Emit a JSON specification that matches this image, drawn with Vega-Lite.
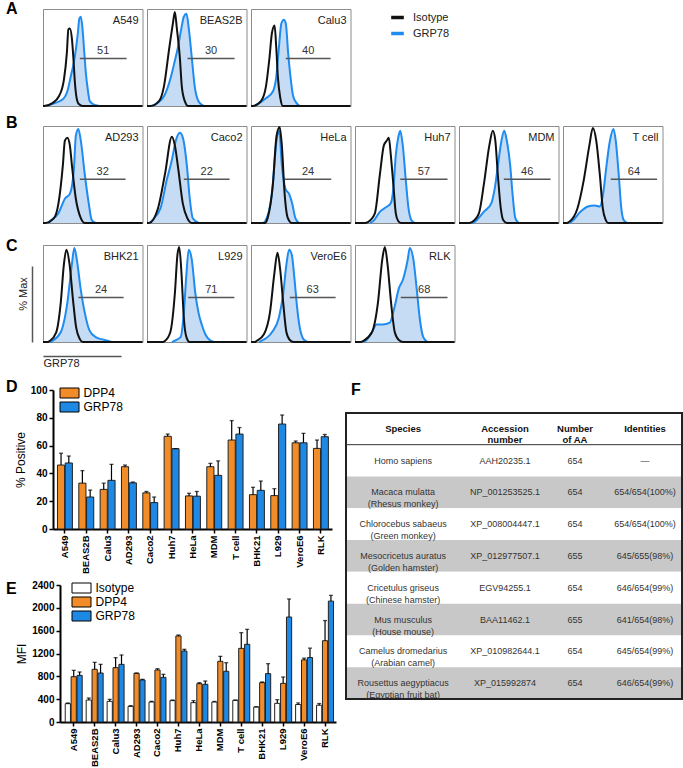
{
"$schema":"https://vega.github.io/schema/vega-lite/v6.json",
"background":"white",
"padding":{"left":5,"top":0,"right":0,"bottom":0},
"config":{"font":"Liberation Sans","view":{"stroke":"#8c8c8c","strokeWidth":1},
"title":{"fontSize":16,"fontWeight":"bold","anchor":"start","frame":"group","color":"#000","offset":0},
"axis":{"grid":false,"labelOverlap":false},"text":{"font":"Liberation Sans"}},
"datasets":{
"hist":[
{"c":"A549","s":"GRP78","x":[4,6,20,25,28,31,35,36.5,38,39.5,41.5,43,45,47,52,57],"y":[0,1,7,17,31,45,75,90,92,82,55,35,17,5,1,0]},
{"c":"A549","s":"Isotype","x":[0,1,9.5,16,21,24,25.5,27,29,30.5,32,33.5,36,40,100],"y":[0,0,3,10,27,55,79,80,70,50,25,10,2,0,0]},
{"c":"A549","s":"gate","x":[37],"y":[49],"x2":84,"n":"51"},
{"c":"BEAS2B","s":"GRP78","x":[5,7,17,24,27.6,31,34.5,37,39.7,42,45,48,51.7,57],"y":[0,1,10,30,45,60,80,92,95,80,50,20,5,0]},
{"c":"BEAS2B","s":"Isotype","x":[0,3.4,12,17,22.4,26,28,30,33,35,38,41.4,100],"y":[0,0,5,20,60,85,97,80,50,20,5,0,0]},
{"c":"BEAS2B","s":"gate","x":[40.7],"y":[49],"x2":88,"n":"30"},
{"c":"Calu3","s":"GRP78","x":[3,5,15,22,25.4,28,30.5,33,35,37.3,39.7,42.4,45.8,49],"y":[0,1,8,15,30,60,85,89,85,55,30,10,3,0]},
{"c":"Calu3","s":"Isotype","x":[0,1.7,10,15,18.6,21,23.7,25.4,27,29.5,32,100],"y":[0,0,5,20,50,75,83,60,30,8,0,0]},
{"c":"Calu3","s":"gate","x":[35],"y":[49],"x2":80,"n":"40"},
{"c":"AD293","s":"GRP78","x":[5,7,15.5,22,27,31,33,35.5,38,42,46,49,53],"y":[0,2,10,25,30,55,90,97,85,50,20,3,0]},
{"c":"AD293","s":"Isotype","x":[0,2,11,15.5,20,22,24.5,27,29,33,38,42,100],"y":[0,0,5,20,60,85,88,80,60,25,5,0,0]},
{"c":"AD293","s":"gate","x":[37],"y":[45],"x2":83,"n":"32"},
{"c":"Caco2","s":"GRP78","x":[3,4.5,13.5,20,25,29,33,36,40,43,46,52],"y":[0,2,15,45,65,85,93,88,60,25,5,0]},
{"c":"Caco2","s":"Isotype","x":[0,2,11,18,25,28,31.5,36,40.5,45,100],"y":[0,0,15,50,89,80,55,20,5,0,0]},
{"c":"Caco2","s":"gate","x":[37],"y":[45],"x2":83,"n":"22"},
{"c":"HeLa","s":"GRP78","x":[12,14.4,21,25.7,28.4,31,34.7,38.3,41.4,44.6,48.2],"y":[0,2,30,85,95,60,35,30,20,5,0]},
{"c":"HeLa","s":"Isotype","x":[0,14,16.7,22,25.7,28.8,31,33.8,37,41,100],"y":[0,0,5,40,90,99,80,30,5,0,0]},
{"c":"HeLa","s":"gate","x":[34],"y":[45],"x2":80.6,"n":"24"},
{"c":"Huh7","s":"GRP78","x":[15,18.4,25.3,32.3,35.8,38.5,41,43.4,45.5,48,51.4,53.8,56.6,60],"y":[0,2,12,17,20,35,70,88,95,80,40,15,3,0]},
{"c":"Huh7","s":"Isotype","x":[0,10,13,20,25,29,32,34,36,38.5,41,43.4,46,100],"y":[0,0,1,10,50,80,85,88,70,40,10,2,0,0]},
{"c":"Huh7","s":"gate","x":[45.5],"y":[45],"x2":93,"n":"57"},
{"c":"MDM","s":"GRP78","x":[13,16.7,25.3,32.3,35.8,39.2,42.7,45.5,48,51.4,53.8,56.6,60],"y":[0,2,12,20,35,60,85,95,85,60,30,5,0]},
{"c":"MDM","s":"Isotype","x":[0,10,13,20,25,30.5,34,36.5,39,42,44.4,48,100],"y":[0,0,1,10,40,80,95,85,50,15,3,0,0]},
{"c":"MDM","s":"gate","x":[45],"y":[45],"x2":92,"n":"46"},
{"c":"T cell","s":"GRP78","x":[7,9.3,18,25,31.7,37,40.3,43.8,47.2,50.7,53,56,58.6,61,64.5],"y":[0,2,12,17,18,17,30,60,85,97,85,50,15,3,0]},
{"c":"T cell","s":"Isotype","x":[0,4,6,14.5,21,26.5,30,33.4,37,40,43,45.5,100],"y":[0,0,1,15,45,80,98,85,50,15,3,0,0]},
{"c":"T cell","s":"gate","x":[48],"y":[45],"x2":94.5,"n":"64"},
{"c":"BHK21","s":"GRP78","x":[7,9,17.8,24.4,29,31.5,34,37.8,42,46.7,53,62,69],"y":[0,1,10,40,80,97,85,55,30,12,5,2,0]},
{"c":"BHK21","s":"Isotype","x":[0,5,6.7,13.3,17.8,21,23.5,26.7,30,33.3,37,40,100],"y":[0,0,1,10,40,80,95,80,45,15,3,0,0]},
{"c":"BHK21","s":"gate","x":[35.6],"y":[46],"x2":81,"n":"24"},
{"c":"L929","s":"GRP78","x":[25,27,33.8,37,39.6,41.9,45,48.6,51.8,55,58.6,63,67.6],"y":[0,1,5,30,70,95,85,50,30,18,8,2,0]},
{"c":"L929","s":"Isotype","x":[0,16,18,23.4,28,30.6,32.4,34.7,37,39.6,42.8,100],"y":[0,0,1,10,50,90,98,70,25,5,0,0]},
{"c":"L929","s":"gate","x":[41.4],"y":[46],"x2":87.8,"n":"71"},
{"c":"VeroE6","s":"GRP78","x":[8,10,21,28,32.4,35.6,38.3,41,43.7,46.4,49,52.7,57],"y":[0,1,10,25,50,80,95,90,65,35,15,3,0]},
{"c":"VeroE6","s":"Isotype","x":[0,4,5.4,13,19,23.4,26.6,29.3,32.4,35.6,39,42.8,100],"y":[0,0,1,8,30,70,92,75,40,10,2,0,0]},
{"c":"VeroE6","s":"gate","x":[39],"y":[46],"x2":85,"n":"63"},
{"c":"RLK","s":"GRP78","x":[8,10.3,17,21.5,28,35,39.5,44,48.4,53,55,58.7,62,65,68.6,73],"y":[0,1,10,18,18,20,35,55,65,85,97,85,55,25,5,0]},
{"c":"RLK","s":"Isotype","x":[0,6,8,17,23,27.4,30,32.7,36.3,40,44,48.4,100],"y":[0,0,1,10,40,85,98,80,40,10,2,0,0]},
{"c":"RLK","s":"gate","x":[46],"y":[46],"x2":93,"n":"68"}
],
"pos":[
{"c":"A549","s":"DPP4","v":46,"hi":54.5},{"c":"A549","s":"GRP78","v":47.5,"hi":52.5},
{"c":"BEAS2B","s":"DPP4","v":33,"hi":42},{"c":"BEAS2B","s":"GRP78","v":23,"hi":28},
{"c":"Calu3","s":"DPP4","v":28.5,"hi":33},{"c":"Calu3","s":"GRP78","v":35,"hi":46.5},
{"c":"AD293","s":"DPP4","v":44.8,"hi":46},{"c":"AD293","s":"GRP78","v":33.2,"hi":33.8},
{"c":"Caco2","s":"DPP4","v":26,"hi":27},{"c":"Caco2","s":"GRP78","v":19,"hi":23},
{"c":"Huh7","s":"DPP4","v":66.7,"hi":68.3},{"c":"Huh7","s":"GRP78","v":57.8,"hi":57.8},
{"c":"HeLa","s":"DPP4","v":23.8,"hi":25.7},{"c":"HeLa","s":"GRP78","v":23.6,"hi":27},
{"c":"MDM","s":"DPP4","v":44.8,"hi":47.2},{"c":"MDM","s":"GRP78","v":38.6,"hi":49},
{"c":"T cell","s":"DPP4","v":64,"hi":78},{"c":"T cell","s":"GRP78","v":68.3,"hi":73},
{"c":"BHK21","s":"DPP4","v":24.7,"hi":30},{"c":"BHK21","s":"GRP78","v":27.8,"hi":34.5},
{"c":"L929","s":"DPP4","v":24,"hi":29},{"c":"L929","s":"GRP78","v":75.5,"hi":82},
{"c":"VeroE6","s":"DPP4","v":62,"hi":63.3},{"c":"VeroE6","s":"GRP78","v":62,"hi":68.8},
{"c":"RLK","s":"DPP4","v":58,"hi":64},{"c":"RLK","s":"GRP78","v":66.4,"hi":68}
],
"mfi":[
{"c":"A549","s":"Isotype","v":321,"hi":333},{"c":"A549","s":"DPP4","v":794,"hi":905},{"c":"A549","s":"GRP78","v":817,"hi":876},
{"c":"BEAS2B","s":"Isotype","v":385,"hi":420},{"c":"BEAS2B","s":"DPP4","v":923,"hi":1045},{"c":"BEAS2B","s":"GRP78","v":858,"hi":1010},
{"c":"Calu3","s":"Isotype","v":362,"hi":397},{"c":"Calu3","s":"DPP4","v":952,"hi":1127},{"c":"Calu3","s":"GRP78","v":1010,"hi":1174},
{"c":"AD293","s":"Isotype","v":274,"hi":286},{"c":"AD293","s":"DPP4","v":853,"hi":858},{"c":"AD293","s":"GRP78","v":736,"hi":747},
{"c":"Caco2","s":"Isotype","v":350,"hi":362},{"c":"Caco2","s":"DPP4","v":911,"hi":934},{"c":"Caco2","s":"GRP78","v":782,"hi":835},
{"c":"Huh7","s":"Isotype","v":374,"hi":385},{"c":"Huh7","s":"DPP4","v":1507,"hi":1524},{"c":"Huh7","s":"GRP78","v":1244,"hi":1273},
{"c":"HeLa","s":"Isotype","v":339,"hi":374},{"c":"HeLa","s":"DPP4","v":671,"hi":689},{"c":"HeLa","s":"GRP78","v":660,"hi":718},
{"c":"MDM","s":"Isotype","v":350,"hi":360},{"c":"MDM","s":"DPP4","v":1063,"hi":1150},{"c":"MDM","s":"GRP78","v":888,"hi":1039},
{"c":"T cell","s":"Isotype","v":380,"hi":385},{"c":"T cell","s":"DPP4","v":1290,"hi":1565},{"c":"T cell","s":"GRP78","v":1361,"hi":1623},
{"c":"BHK21","s":"Isotype","v":263,"hi":268},{"c":"BHK21","s":"DPP4","v":689,"hi":701},{"c":"BHK21","s":"GRP78","v":847,"hi":1022},
{"c":"L929","s":"Isotype","v":327,"hi":391},{"c":"L929","s":"DPP4","v":677,"hi":788},{"c":"L929","s":"GRP78","v":1839,"hi":2155},
{"c":"VeroE6","s":"Isotype","v":306,"hi":335},{"c":"VeroE6","s":"DPP4","v":1088,"hi":1118},{"c":"VeroE6","s":"GRP78","v":1129,"hi":1294},
{"c":"RLK","s":"Isotype","v":294,"hi":323},{"c":"RLK","s":"DPP4","v":1424,"hi":1777},{"c":"RLK","s":"GRP78","v":2118,"hi":2218}
],
"tbl":[
{"species":"Species","acc":"Accession\nnumber","naa":"Number\nof AA","ident":"Identities"},
{"species":"Homo sapiens","acc":"AAH20235.1","naa":"654","ident":"—"},
{"species":"Macaca mulatta\n(Rhesus monkey)","acc":"NP_001253525.1","naa":"654","ident":"654/654(100%)"},
{"species":"Chlorocebus sabaeus\n(Green monkey)","acc":"XP_008004447.1","naa":"654","ident":"654/654(100%)"},
{"species":"Mesocricetus auratus\n(Golden hamster)","acc":"XP_012977507.1","naa":"655","ident":"645/655(98%)"},
{"species":"Cricetulus griseus\n(Chinese hamster)","acc":"EGV94255.1","naa":"654","ident":"646/654(99%)"},
{"species":"Mus musculus\n(House mouse)","acc":"BAA11462.1","naa":"655","ident":"641/654(98%)"},
{"species":"Camelus dromedarius\n(Arabian camel)","acc":"XP_010982644.1","naa":"654","ident":"645/654(99%)"},
{"species":"Rousettus aegyptiacus\n(Egyptian fruit bat)","acc":"XP_015992874","naa":"654","ident":"646/654(99%)"}
]
},
"columns":1,"align":"none","bounds":"full","spacing":10,
"resolve":{"scale":{"stroke":"independent","fill":"independent","xOffset":"independent"},"legend":{"stroke":"independent","fill":"independent"}},
"concat":[
{"columns":1,"align":"none","bounds":"full","spacing":9,
"resolve":{"scale":{"stroke":"independent"},"legend":{"stroke":"independent"}},
"concat":[
{"columns":1,"align":"none","bounds":"full","spacing":3,
"resolve":{"scale":{"stroke":"independent"},"legend":{"stroke":"independent"}},
"concat":[
{"data":{"name":"hist"},"bounds":"flush","spacing":4,
"resolve":{"scale":{"stroke":"independent"},"legend":{"stroke":"independent"}},
"hconcat":[
{"transform":[{"filter":"datum.c=='A549'"},{"flatten":["x","y"]}],"width":99.5,"height":97,"title":{"text":"A","dx":-37,"dy":12},"layer":[
{"transform":[{"filter":"datum.s=='GRP78'"}],"mark":{"type":"area","interpolate":"monotone","fill":"#c5dcf4"},"encoding":{"x":{"field":"x","type":"quantitative","scale":{"domain":[0,100],"nice":false},"axis":null},"y":{"field":"y","type":"quantitative","scale":{"domain":[0,100],"nice":false},"axis":null}}},
{"transform":[{"filter":"datum.s!='gate'"}],"mark":{"type":"line","interpolate":"monotone","strokeWidth":2},"encoding":{"x":{"field":"x","type":"quantitative","axis":null},"y":{"field":"y","type":"quantitative","axis":null},"stroke":{"field":"s","type":"nominal","scale":{"domain":["Isotype","GRP78"],"range":["#111111","#1e8cf0"]},"legend":null}}},
{"transform":[{"filter":"datum.s=='gate'"}],"mark":{"type":"rule","stroke":"#555555","strokeWidth":1.5},"encoding":{"x":{"field":"x","type":"quantitative","axis":null},"x2":{"field":"x2"},"y":{"field":"y","type":"quantitative","axis":null}}},
{"transform":[{"filter":"datum.s=='gate'"},{"calculate":"(datum.x+datum.x2)/2","as":"xm"}],"mark":{"type":"text","baseline":"bottom","dy":-2,"fontSize":11,"color":"#333333"},"encoding":{"x":{"field":"xm","type":"quantitative","axis":null},"y":{"field":"y","type":"quantitative","axis":null},"text":{"field":"n"}}},
{"transform":[{"filter":"datum.s=='gate'"}],"mark":{"type":"text","align":"right","baseline":"top","fontSize":11,"color":"#222222"},"encoding":{"x":{"datum":96,"type":"quantitative","axis":null},"y":{"datum":94,"type":"quantitative","axis":null},"text":{"field":"c"}}}
]},
{"transform":[{"filter":"datum.c=='BEAS2B'"},{"flatten":["x","y"]}],"width":99.5,"height":97,"layer":[
{"transform":[{"filter":"datum.s=='GRP78'"}],"mark":{"type":"area","interpolate":"monotone","fill":"#c5dcf4"},"encoding":{"x":{"field":"x","type":"quantitative","scale":{"domain":[0,100],"nice":false},"axis":null},"y":{"field":"y","type":"quantitative","scale":{"domain":[0,100],"nice":false},"axis":null}}},
{"transform":[{"filter":"datum.s!='gate'"}],"mark":{"type":"line","interpolate":"monotone","strokeWidth":2},"encoding":{"x":{"field":"x","type":"quantitative","axis":null},"y":{"field":"y","type":"quantitative","axis":null},"stroke":{"field":"s","type":"nominal","scale":{"domain":["Isotype","GRP78"],"range":["#111111","#1e8cf0"]},"legend":null}}},
{"transform":[{"filter":"datum.s=='gate'"}],"mark":{"type":"rule","stroke":"#555555","strokeWidth":1.5},"encoding":{"x":{"field":"x","type":"quantitative","axis":null},"x2":{"field":"x2"},"y":{"field":"y","type":"quantitative","axis":null}}},
{"transform":[{"filter":"datum.s=='gate'"},{"calculate":"(datum.x+datum.x2)/2","as":"xm"}],"mark":{"type":"text","baseline":"bottom","dy":-2,"fontSize":11,"color":"#333333"},"encoding":{"x":{"field":"xm","type":"quantitative","axis":null},"y":{"field":"y","type":"quantitative","axis":null},"text":{"field":"n"}}},
{"transform":[{"filter":"datum.s=='gate'"}],"mark":{"type":"text","align":"right","baseline":"top","fontSize":11,"color":"#222222"},"encoding":{"x":{"datum":96,"type":"quantitative","axis":null},"y":{"datum":94,"type":"quantitative","axis":null},"text":{"field":"c"}}}
]},
{"transform":[{"filter":"datum.c=='Calu3'"},{"flatten":["x","y"]}],"width":99.5,"height":97,"layer":[
{"transform":[{"filter":"datum.s=='GRP78'"}],"mark":{"type":"area","interpolate":"monotone","fill":"#c5dcf4"},"encoding":{"x":{"field":"x","type":"quantitative","scale":{"domain":[0,100],"nice":false},"axis":null},"y":{"field":"y","type":"quantitative","scale":{"domain":[0,100],"nice":false},"axis":null}}},
{"transform":[{"filter":"datum.s!='gate'"}],"mark":{"type":"line","interpolate":"monotone","strokeWidth":2},"encoding":{"x":{"field":"x","type":"quantitative","axis":null},"y":{"field":"y","type":"quantitative","axis":null},"stroke":{"field":"s","type":"nominal","scale":{"domain":["Isotype","GRP78"],"range":["#111111","#1e8cf0"]},"legend":{"title":null,"orient":"right","offset":34,"symbolType":"stroke","symbolStrokeWidth":3.5,"symbolSize":160,"labelFontSize":11,"labelOffset":7,"rowPadding":0,"labelColor":"#222222"}}}},
{"transform":[{"filter":"datum.s=='gate'"}],"mark":{"type":"rule","stroke":"#555555","strokeWidth":1.5},"encoding":{"x":{"field":"x","type":"quantitative","axis":null},"x2":{"field":"x2"},"y":{"field":"y","type":"quantitative","axis":null}}},
{"transform":[{"filter":"datum.s=='gate'"},{"calculate":"(datum.x+datum.x2)/2","as":"xm"}],"mark":{"type":"text","baseline":"bottom","dy":-2,"fontSize":11,"color":"#333333"},"encoding":{"x":{"field":"xm","type":"quantitative","axis":null},"y":{"field":"y","type":"quantitative","axis":null},"text":{"field":"n"}}},
{"transform":[{"filter":"datum.s=='gate'"}],"mark":{"type":"text","align":"right","baseline":"top","fontSize":11,"color":"#222222"},"encoding":{"x":{"datum":96,"type":"quantitative","axis":null},"y":{"datum":94,"type":"quantitative","axis":null},"text":{"field":"c"}}}
]}
]},
{"data":{"name":"hist"},"bounds":"flush","spacing":4,
"resolve":{"scale":{"stroke":"independent"},"legend":{"stroke":"independent"}},
"hconcat":[
{"transform":[{"filter":"datum.c=='AD293'"},{"flatten":["x","y"]}],"width":99.5,"height":97,"title":{"text":"B","dx":-37,"dy":10},"layer":[
{"transform":[{"filter":"datum.s=='GRP78'"}],"mark":{"type":"area","interpolate":"monotone","fill":"#c5dcf4"},"encoding":{"x":{"field":"x","type":"quantitative","scale":{"domain":[0,100],"nice":false},"axis":null},"y":{"field":"y","type":"quantitative","scale":{"domain":[0,100],"nice":false},"axis":null}}},
{"transform":[{"filter":"datum.s!='gate'"}],"mark":{"type":"line","interpolate":"monotone","strokeWidth":2},"encoding":{"x":{"field":"x","type":"quantitative","axis":null},"y":{"field":"y","type":"quantitative","axis":null},"stroke":{"field":"s","type":"nominal","scale":{"domain":["Isotype","GRP78"],"range":["#111111","#1e8cf0"]},"legend":null}}},
{"transform":[{"filter":"datum.s=='gate'"}],"mark":{"type":"rule","stroke":"#555555","strokeWidth":1.5},"encoding":{"x":{"field":"x","type":"quantitative","axis":null},"x2":{"field":"x2"},"y":{"field":"y","type":"quantitative","axis":null}}},
{"transform":[{"filter":"datum.s=='gate'"},{"calculate":"(datum.x+datum.x2)/2","as":"xm"}],"mark":{"type":"text","baseline":"bottom","dy":-2,"fontSize":11,"color":"#333333"},"encoding":{"x":{"field":"xm","type":"quantitative","axis":null},"y":{"field":"y","type":"quantitative","axis":null},"text":{"field":"n"}}},
{"transform":[{"filter":"datum.s=='gate'"}],"mark":{"type":"text","align":"right","baseline":"top","fontSize":11,"color":"#222222"},"encoding":{"x":{"datum":96,"type":"quantitative","axis":null},"y":{"datum":94,"type":"quantitative","axis":null},"text":{"field":"c"}}}
]},
{"transform":[{"filter":"datum.c=='Caco2'"},{"flatten":["x","y"]}],"width":99.5,"height":97,"layer":[
{"transform":[{"filter":"datum.s=='GRP78'"}],"mark":{"type":"area","interpolate":"monotone","fill":"#c5dcf4"},"encoding":{"x":{"field":"x","type":"quantitative","scale":{"domain":[0,100],"nice":false},"axis":null},"y":{"field":"y","type":"quantitative","scale":{"domain":[0,100],"nice":false},"axis":null}}},
{"transform":[{"filter":"datum.s!='gate'"}],"mark":{"type":"line","interpolate":"monotone","strokeWidth":2},"encoding":{"x":{"field":"x","type":"quantitative","axis":null},"y":{"field":"y","type":"quantitative","axis":null},"stroke":{"field":"s","type":"nominal","scale":{"domain":["Isotype","GRP78"],"range":["#111111","#1e8cf0"]},"legend":null}}},
{"transform":[{"filter":"datum.s=='gate'"}],"mark":{"type":"rule","stroke":"#555555","strokeWidth":1.5},"encoding":{"x":{"field":"x","type":"quantitative","axis":null},"x2":{"field":"x2"},"y":{"field":"y","type":"quantitative","axis":null}}},
{"transform":[{"filter":"datum.s=='gate'"},{"calculate":"(datum.x+datum.x2)/2","as":"xm"}],"mark":{"type":"text","baseline":"bottom","dy":-2,"fontSize":11,"color":"#333333"},"encoding":{"x":{"field":"xm","type":"quantitative","axis":null},"y":{"field":"y","type":"quantitative","axis":null},"text":{"field":"n"}}},
{"transform":[{"filter":"datum.s=='gate'"}],"mark":{"type":"text","align":"right","baseline":"top","fontSize":11,"color":"#222222"},"encoding":{"x":{"datum":96,"type":"quantitative","axis":null},"y":{"datum":94,"type":"quantitative","axis":null},"text":{"field":"c"}}}
]},
{"transform":[{"filter":"datum.c=='HeLa'"},{"flatten":["x","y"]}],"width":99.5,"height":97,"layer":[
{"transform":[{"filter":"datum.s=='GRP78'"}],"mark":{"type":"area","interpolate":"monotone","fill":"#c5dcf4"},"encoding":{"x":{"field":"x","type":"quantitative","scale":{"domain":[0,100],"nice":false},"axis":null},"y":{"field":"y","type":"quantitative","scale":{"domain":[0,100],"nice":false},"axis":null}}},
{"transform":[{"filter":"datum.s!='gate'"}],"mark":{"type":"line","interpolate":"monotone","strokeWidth":2},"encoding":{"x":{"field":"x","type":"quantitative","axis":null},"y":{"field":"y","type":"quantitative","axis":null},"stroke":{"field":"s","type":"nominal","scale":{"domain":["Isotype","GRP78"],"range":["#111111","#1e8cf0"]},"legend":null}}},
{"transform":[{"filter":"datum.s=='gate'"}],"mark":{"type":"rule","stroke":"#555555","strokeWidth":1.5},"encoding":{"x":{"field":"x","type":"quantitative","axis":null},"x2":{"field":"x2"},"y":{"field":"y","type":"quantitative","axis":null}}},
{"transform":[{"filter":"datum.s=='gate'"},{"calculate":"(datum.x+datum.x2)/2","as":"xm"}],"mark":{"type":"text","baseline":"bottom","dy":-2,"fontSize":11,"color":"#333333"},"encoding":{"x":{"field":"xm","type":"quantitative","axis":null},"y":{"field":"y","type":"quantitative","axis":null},"text":{"field":"n"}}},
{"transform":[{"filter":"datum.s=='gate'"}],"mark":{"type":"text","align":"right","baseline":"top","fontSize":11,"color":"#222222"},"encoding":{"x":{"datum":96,"type":"quantitative","axis":null},"y":{"datum":94,"type":"quantitative","axis":null},"text":{"field":"c"}}}
]},
{"transform":[{"filter":"datum.c=='Huh7'"},{"flatten":["x","y"]}],"width":99.5,"height":97,"layer":[
{"transform":[{"filter":"datum.s=='GRP78'"}],"mark":{"type":"area","interpolate":"monotone","fill":"#c5dcf4"},"encoding":{"x":{"field":"x","type":"quantitative","scale":{"domain":[0,100],"nice":false},"axis":null},"y":{"field":"y","type":"quantitative","scale":{"domain":[0,100],"nice":false},"axis":null}}},
{"transform":[{"filter":"datum.s!='gate'"}],"mark":{"type":"line","interpolate":"monotone","strokeWidth":2},"encoding":{"x":{"field":"x","type":"quantitative","axis":null},"y":{"field":"y","type":"quantitative","axis":null},"stroke":{"field":"s","type":"nominal","scale":{"domain":["Isotype","GRP78"],"range":["#111111","#1e8cf0"]},"legend":null}}},
{"transform":[{"filter":"datum.s=='gate'"}],"mark":{"type":"rule","stroke":"#555555","strokeWidth":1.5},"encoding":{"x":{"field":"x","type":"quantitative","axis":null},"x2":{"field":"x2"},"y":{"field":"y","type":"quantitative","axis":null}}},
{"transform":[{"filter":"datum.s=='gate'"},{"calculate":"(datum.x+datum.x2)/2","as":"xm"}],"mark":{"type":"text","baseline":"bottom","dy":-2,"fontSize":11,"color":"#333333"},"encoding":{"x":{"field":"xm","type":"quantitative","axis":null},"y":{"field":"y","type":"quantitative","axis":null},"text":{"field":"n"}}},
{"transform":[{"filter":"datum.s=='gate'"}],"mark":{"type":"text","align":"right","baseline":"top","fontSize":11,"color":"#222222"},"encoding":{"x":{"datum":96,"type":"quantitative","axis":null},"y":{"datum":94,"type":"quantitative","axis":null},"text":{"field":"c"}}}
]},
{"transform":[{"filter":"datum.c=='MDM'"},{"flatten":["x","y"]}],"width":99.5,"height":97,"layer":[
{"transform":[{"filter":"datum.s=='GRP78'"}],"mark":{"type":"area","interpolate":"monotone","fill":"#c5dcf4"},"encoding":{"x":{"field":"x","type":"quantitative","scale":{"domain":[0,100],"nice":false},"axis":null},"y":{"field":"y","type":"quantitative","scale":{"domain":[0,100],"nice":false},"axis":null}}},
{"transform":[{"filter":"datum.s!='gate'"}],"mark":{"type":"line","interpolate":"monotone","strokeWidth":2},"encoding":{"x":{"field":"x","type":"quantitative","axis":null},"y":{"field":"y","type":"quantitative","axis":null},"stroke":{"field":"s","type":"nominal","scale":{"domain":["Isotype","GRP78"],"range":["#111111","#1e8cf0"]},"legend":null}}},
{"transform":[{"filter":"datum.s=='gate'"}],"mark":{"type":"rule","stroke":"#555555","strokeWidth":1.5},"encoding":{"x":{"field":"x","type":"quantitative","axis":null},"x2":{"field":"x2"},"y":{"field":"y","type":"quantitative","axis":null}}},
{"transform":[{"filter":"datum.s=='gate'"},{"calculate":"(datum.x+datum.x2)/2","as":"xm"}],"mark":{"type":"text","baseline":"bottom","dy":-2,"fontSize":11,"color":"#333333"},"encoding":{"x":{"field":"xm","type":"quantitative","axis":null},"y":{"field":"y","type":"quantitative","axis":null},"text":{"field":"n"}}},
{"transform":[{"filter":"datum.s=='gate'"}],"mark":{"type":"text","align":"right","baseline":"top","fontSize":11,"color":"#222222"},"encoding":{"x":{"datum":96,"type":"quantitative","axis":null},"y":{"datum":94,"type":"quantitative","axis":null},"text":{"field":"c"}}}
]},
{"transform":[{"filter":"datum.c=='T cell'"},{"flatten":["x","y"]}],"width":99.5,"height":97,"layer":[
{"transform":[{"filter":"datum.s=='GRP78'"}],"mark":{"type":"area","interpolate":"monotone","fill":"#c5dcf4"},"encoding":{"x":{"field":"x","type":"quantitative","scale":{"domain":[0,100],"nice":false},"axis":null},"y":{"field":"y","type":"quantitative","scale":{"domain":[0,100],"nice":false},"axis":null}}},
{"transform":[{"filter":"datum.s!='gate'"}],"mark":{"type":"line","interpolate":"monotone","strokeWidth":2},"encoding":{"x":{"field":"x","type":"quantitative","axis":null},"y":{"field":"y","type":"quantitative","axis":null},"stroke":{"field":"s","type":"nominal","scale":{"domain":["Isotype","GRP78"],"range":["#111111","#1e8cf0"]},"legend":null}}},
{"transform":[{"filter":"datum.s=='gate'"}],"mark":{"type":"rule","stroke":"#555555","strokeWidth":1.5},"encoding":{"x":{"field":"x","type":"quantitative","axis":null},"x2":{"field":"x2"},"y":{"field":"y","type":"quantitative","axis":null}}},
{"transform":[{"filter":"datum.s=='gate'"},{"calculate":"(datum.x+datum.x2)/2","as":"xm"}],"mark":{"type":"text","baseline":"bottom","dy":-2,"fontSize":11,"color":"#333333"},"encoding":{"x":{"field":"xm","type":"quantitative","axis":null},"y":{"field":"y","type":"quantitative","axis":null},"text":{"field":"n"}}},
{"transform":[{"filter":"datum.s=='gate'"}],"mark":{"type":"text","align":"right","baseline":"top","fontSize":11,"color":"#222222"},"encoding":{"x":{"datum":96,"type":"quantitative","axis":null},"y":{"datum":94,"type":"quantitative","axis":null},"text":{"field":"c"}}}
]}
]}
]},
{"data":{"name":"hist"},"bounds":"flush","spacing":4,
"resolve":{"scale":{"stroke":"independent"},"legend":{"stroke":"independent"}},
"hconcat":[
{"transform":[{"filter":"datum.c=='BHK21'"},{"flatten":["x","y"]}],"width":99.5,"height":97,"title":{"text":"C","dx":-37,"dy":14},"layer":[
{"transform":[{"filter":"datum.s=='GRP78'"}],"mark":{"type":"area","interpolate":"monotone","fill":"#c5dcf4"},"encoding":{"x":{"field":"x","type":"quantitative","scale":{"domain":[0,100],"nice":false},"axis":{"orient":"bottom","offset":14,"domain":true,"domainColor":"#555555","domainWidth":1.5,"domainDash":[78,1000],"ticks":false,"labels":false,"title":"GRP78","titleFontWeight":"normal","titleFontSize":11,"titleColor":"#222222","titleAnchor":"start","titlePadding":1}},"y":{"field":"y","type":"quantitative","scale":{"domain":[0,100],"nice":false},"axis":{"orient":"left","offset":11,"domain":true,"domainColor":"#555555","domainWidth":1.5,"domainDash":[76,1000],"ticks":false,"labels":false,"title":"% Max","titleFontWeight":"normal","titleFontSize":11,"titleColor":"#222222","titlePadding":4}}}},
{"transform":[{"filter":"datum.s!='gate'"}],"mark":{"type":"line","interpolate":"monotone","strokeWidth":2},"encoding":{"x":{"field":"x","type":"quantitative"},"y":{"field":"y","type":"quantitative"},"stroke":{"field":"s","type":"nominal","scale":{"domain":["Isotype","GRP78"],"range":["#111111","#1e8cf0"]},"legend":null}}},
{"transform":[{"filter":"datum.s=='gate'"}],"mark":{"type":"rule","stroke":"#555555","strokeWidth":1.5},"encoding":{"x":{"field":"x","type":"quantitative"},"x2":{"field":"x2"},"y":{"field":"y","type":"quantitative"}}},
{"transform":[{"filter":"datum.s=='gate'"},{"calculate":"(datum.x+datum.x2)/2","as":"xm"}],"mark":{"type":"text","baseline":"bottom","dy":-2,"fontSize":11,"color":"#333333"},"encoding":{"x":{"field":"xm","type":"quantitative"},"y":{"field":"y","type":"quantitative"},"text":{"field":"n"}}},
{"transform":[{"filter":"datum.s=='gate'"}],"mark":{"type":"text","align":"right","baseline":"top","fontSize":11,"color":"#222222"},"encoding":{"x":{"datum":96,"type":"quantitative"},"y":{"datum":94,"type":"quantitative"},"text":{"field":"c"}}}
]},
{"transform":[{"filter":"datum.c=='L929'"},{"flatten":["x","y"]}],"width":99.5,"height":97,"layer":[
{"transform":[{"filter":"datum.s=='GRP78'"}],"mark":{"type":"area","interpolate":"monotone","fill":"#c5dcf4"},"encoding":{"x":{"field":"x","type":"quantitative","scale":{"domain":[0,100],"nice":false},"axis":null},"y":{"field":"y","type":"quantitative","scale":{"domain":[0,100],"nice":false},"axis":null}}},
{"transform":[{"filter":"datum.s!='gate'"}],"mark":{"type":"line","interpolate":"monotone","strokeWidth":2},"encoding":{"x":{"field":"x","type":"quantitative","axis":null},"y":{"field":"y","type":"quantitative","axis":null},"stroke":{"field":"s","type":"nominal","scale":{"domain":["Isotype","GRP78"],"range":["#111111","#1e8cf0"]},"legend":null}}},
{"transform":[{"filter":"datum.s=='gate'"}],"mark":{"type":"rule","stroke":"#555555","strokeWidth":1.5},"encoding":{"x":{"field":"x","type":"quantitative","axis":null},"x2":{"field":"x2"},"y":{"field":"y","type":"quantitative","axis":null}}},
{"transform":[{"filter":"datum.s=='gate'"},{"calculate":"(datum.x+datum.x2)/2","as":"xm"}],"mark":{"type":"text","baseline":"bottom","dy":-2,"fontSize":11,"color":"#333333"},"encoding":{"x":{"field":"xm","type":"quantitative","axis":null},"y":{"field":"y","type":"quantitative","axis":null},"text":{"field":"n"}}},
{"transform":[{"filter":"datum.s=='gate'"}],"mark":{"type":"text","align":"right","baseline":"top","fontSize":11,"color":"#222222"},"encoding":{"x":{"datum":96,"type":"quantitative","axis":null},"y":{"datum":94,"type":"quantitative","axis":null},"text":{"field":"c"}}}
]},
{"transform":[{"filter":"datum.c=='VeroE6'"},{"flatten":["x","y"]}],"width":99.5,"height":97,"layer":[
{"transform":[{"filter":"datum.s=='GRP78'"}],"mark":{"type":"area","interpolate":"monotone","fill":"#c5dcf4"},"encoding":{"x":{"field":"x","type":"quantitative","scale":{"domain":[0,100],"nice":false},"axis":null},"y":{"field":"y","type":"quantitative","scale":{"domain":[0,100],"nice":false},"axis":null}}},
{"transform":[{"filter":"datum.s!='gate'"}],"mark":{"type":"line","interpolate":"monotone","strokeWidth":2},"encoding":{"x":{"field":"x","type":"quantitative","axis":null},"y":{"field":"y","type":"quantitative","axis":null},"stroke":{"field":"s","type":"nominal","scale":{"domain":["Isotype","GRP78"],"range":["#111111","#1e8cf0"]},"legend":null}}},
{"transform":[{"filter":"datum.s=='gate'"}],"mark":{"type":"rule","stroke":"#555555","strokeWidth":1.5},"encoding":{"x":{"field":"x","type":"quantitative","axis":null},"x2":{"field":"x2"},"y":{"field":"y","type":"quantitative","axis":null}}},
{"transform":[{"filter":"datum.s=='gate'"},{"calculate":"(datum.x+datum.x2)/2","as":"xm"}],"mark":{"type":"text","baseline":"bottom","dy":-2,"fontSize":11,"color":"#333333"},"encoding":{"x":{"field":"xm","type":"quantitative","axis":null},"y":{"field":"y","type":"quantitative","axis":null},"text":{"field":"n"}}},
{"transform":[{"filter":"datum.s=='gate'"}],"mark":{"type":"text","align":"right","baseline":"top","fontSize":11,"color":"#222222"},"encoding":{"x":{"datum":96,"type":"quantitative","axis":null},"y":{"datum":94,"type":"quantitative","axis":null},"text":{"field":"c"}}}
]},
{"transform":[{"filter":"datum.c=='RLK'"},{"flatten":["x","y"]}],"width":99.5,"height":97,"layer":[
{"transform":[{"filter":"datum.s=='GRP78'"}],"mark":{"type":"area","interpolate":"monotone","fill":"#c5dcf4"},"encoding":{"x":{"field":"x","type":"quantitative","scale":{"domain":[0,100],"nice":false},"axis":null},"y":{"field":"y","type":"quantitative","scale":{"domain":[0,100],"nice":false},"axis":null}}},
{"transform":[{"filter":"datum.s!='gate'"}],"mark":{"type":"line","interpolate":"monotone","strokeWidth":2},"encoding":{"x":{"field":"x","type":"quantitative","axis":null},"y":{"field":"y","type":"quantitative","axis":null},"stroke":{"field":"s","type":"nominal","scale":{"domain":["Isotype","GRP78"],"range":["#111111","#1e8cf0"]},"legend":null}}},
{"transform":[{"filter":"datum.s=='gate'"}],"mark":{"type":"rule","stroke":"#555555","strokeWidth":1.5},"encoding":{"x":{"field":"x","type":"quantitative","axis":null},"x2":{"field":"x2"},"y":{"field":"y","type":"quantitative","axis":null}}},
{"transform":[{"filter":"datum.s=='gate'"},{"calculate":"(datum.x+datum.x2)/2","as":"xm"}],"mark":{"type":"text","baseline":"bottom","dy":-2,"fontSize":11,"color":"#333333"},"encoding":{"x":{"field":"xm","type":"quantitative","axis":null},"y":{"field":"y","type":"quantitative","axis":null},"text":{"field":"n"}}},
{"transform":[{"filter":"datum.s=='gate'"}],"mark":{"type":"text","align":"right","baseline":"top","fontSize":11,"color":"#222222"},"encoding":{"x":{"datum":96,"type":"quantitative","axis":null},"y":{"datum":94,"type":"quantitative","axis":null},"text":{"field":"c"}}}
]}
]}
]},
{"columns":2,"align":"none","bounds":"full","spacing":9,
"resolve":{"scale":{"fill":"independent","xOffset":"independent"},"legend":{"fill":"independent"}},
"concat":[
{"columns":1,"align":"none","bounds":"full","spacing":6,
"resolve":{"scale":{"fill":"independent","xOffset":"independent"},"legend":{"fill":"independent"}},
"concat":[
{"data":{"name":"pos"},"width":289,"height":139,"view":{"stroke":null},
"title":{"text":"D","dx":-37,"dy":14},
"encoding":{
"x":{"field":"c","type":"nominal","sort":["A549","BEAS2B","Calu3","AD293","Caco2","Huh7","HeLa","MDM","T cell","BHK21","L929","VeroE6","RLK"],"scale":{"paddingInner":0.3,"paddingOuter":0.424,"align":0.8},"axis":{"title":null,"labelAngle":-90,"labelFontWeight":"bold","labelFontSize":9.5,"labelColor":"#000","domainColor":"#000","domainWidth":2,"domainDash":[0,10,1000],"tickColor":"#000","tickWidth":1.5,"tickSize":4,"labelPadding":2}},
"xOffset":{"field":"s","type":"nominal","sort":["DPP4","GRP78"],"scale":{"paddingInner":0.08}}},
"layer":[
{"mark":{"type":"bar","stroke":"#222222","strokeWidth":1},"encoding":{"y":{"field":"v","type":"quantitative","scale":{"domain":[0,100],"nice":false},"axis":{"offset":-10,"values":[0,20,40,60,80,100],"tickCount":12,"labelOverlap":false,"title":"% Positive","titleFontWeight":"normal","titleFontSize":12,"titleColor":"#000","labelFontWeight":"bold","labelFontSize":10,"labelColor":"#000","domainColor":"#000","domainWidth":2,"tickColor":"#000","tickWidth":1.5,"tickSize":4,"titlePadding":3}},
"fill":{"field":"s","type":"nominal","scale":{"domain":["DPP4","GRP78"],"range":["#f28c28","#1e88e5"]},"legend":{"title":null,"orient":"none","legendX":20.5,"legendY":-3,"symbolType":"M-1.9,-1H1.9V1H-1.9Z","symbolSize":100,"symbolStrokeColor":"#000","symbolStrokeWidth":1,"labelFontSize":12,"labelColor":"#000","rowPadding":0,"labelOffset":8}}}},
{"mark":{"type":"rule","color":"#000","strokeWidth":1.2},"encoding":{"y":{"field":"v","type":"quantitative"},"y2":{"field":"hi"}}},
{"mark":{"type":"tick","orient":"horizontal","color":"#000","thickness":1.3,"size":4},"encoding":{"y":{"field":"hi","type":"quantitative"}}}
]},
{"data":{"name":"mfi"},"width":293,"height":137,"view":{"stroke":null},
"title":{"text":"E","dx":-37,"dy":21},
"encoding":{
"x":{"field":"c","type":"nominal","sort":["A549","BEAS2B","Calu3","AD293","Caco2","Huh7","HeLa","MDM","T cell","BHK21","L929","VeroE6","RLK"],"scale":{"paddingInner":0.19,"paddingOuter":0.59,"align":0.9},"axis":{"title":null,"labelAngle":-90,"labelFontWeight":"bold","labelFontSize":9.5,"labelColor":"#000","domainColor":"#000","domainWidth":2,"domainDash":[0,17,1000],"tickColor":"#000","tickWidth":1.5,"tickSize":4,"labelPadding":2}},
"xOffset":{"field":"s","type":"nominal","sort":["Isotype","DPP4","GRP78"],"scale":{"paddingInner":0.12}}},
"layer":[
{"mark":{"type":"bar","stroke":"#222222","strokeWidth":1},"encoding":{"y":{"field":"v","type":"quantitative","scale":{"domain":[0,2400],"nice":false},"axis":{"offset":-17,"values":[0,400,800,1200,1600,2000,2400],"tickCount":14,"labelOverlap":false,"format":"d","title":"MFI","titleFontWeight":"normal","titleFontSize":12,"titleColor":"#000","labelFontWeight":"bold","labelFontSize":10,"labelColor":"#000","domainColor":"#000","domainWidth":2,"tickColor":"#000","tickWidth":1.5,"tickSize":4,"titlePadding":3}},
"fill":{"field":"s","type":"nominal","scale":{"domain":["Isotype","DPP4","GRP78"],"range":["#ffffff","#f28c28","#1e88e5"]},"legend":{"title":null,"orient":"none","legendX":32.5,"legendY":-3,"symbolType":"M-1.9,-1H1.9V1H-1.9Z","symbolSize":100,"symbolStrokeColor":"#000","symbolStrokeWidth":1,"labelFontSize":12,"labelColor":"#000","rowPadding":0,"labelOffset":8}}}},
{"mark":{"type":"rule","color":"#000","strokeWidth":1.2},"encoding":{"y":{"field":"v","type":"quantitative"},"y2":{"field":"hi"}}},
{"mark":{"type":"tick","orient":"horizontal","color":"#000","thickness":1.3,"size":4},"encoding":{"y":{"field":"hi","type":"quantitative"}}}
]}
]},
{"data":{"name":"tbl"},"width":336,"height":309,"view":{"stroke":null},
"title":{"text":"F","dx":5,"dy":12},
"transform":[{"window":[{"op":"row_number","as":"r"}]},{"calculate":"datum.r-1","as":"r0"},{"calculate":"datum.r-0.5","as":"rm"},{"fold":["species","acc","naa","ident"],"as":["col","val"]}],
"resolve":{"scale":{"x":"independent"}},
"layer":[
{"transform":[{"filter":"datum.col=='species'"}],"mark":{"type":"rect"},"encoding":{"y":{"field":"r0","type":"quantitative","scale":{"domain":[-0.72,9],"reverse":true,"nice":false,"zero":false},"axis":null},"y2":{"field":"r"},"fill":{"condition":{"test":"datum.r>1 && datum.r%2==1","value":"#c8c8c8"},"value":"#ffffff"}}},
{"transform":[{"filter":"datum.col=='species'"},{"aggregate":[{"op":"min","field":"r0","as":"lo"},{"op":"max","field":"r","as":"hi"}]}],"mark":{"type":"rect","fill":null,"stroke":"#222222","strokeWidth":2},"encoding":{"y":{"field":"lo","type":"quantitative"},"y2":{"field":"hi"}}},
{"transform":[{"filter":"datum.r==1 && datum.col=='species'"}],"mark":{"type":"rule","color":"#333333","strokeWidth":1},"encoding":{"y":{"field":"r","type":"quantitative"}}},
{"transform":[{"filter":"datum.r==1 && datum.col=='species'"}],"mark":{"type":"text","fontSize":9.5,"baseline":"middle","fontWeight":"bold","color":"#111111"},"encoding":{"y":{"field":"rm","type":"quantitative"},"x":{"field":"col","type":"nominal","scale":{"type":"point","padding":0.5,"align":0.17},"axis":null},"text":{"field":"val"}}},
{"transform":[{"filter":"datum.r==1 && datum.col!='species'"}],"mark":{"type":"text","lineBreak":"\n","fontSize":9.5,"lineHeight":11,"baseline":"middle","fontWeight":"bold","color":"#111111"},"encoding":{"y":{"field":"rm","type":"quantitative"},"x":{"field":"col","type":"nominal","sort":["acc","naa","ident"],"scale":{"type":"band","paddingInner":0,"paddingOuter":0.9,"align":0.984},"axis":null},"text":{"field":"val"}}},
{"transform":[{"filter":"datum.r>1 && datum.col=='species'"}],"mark":{"type":"text","lineBreak":"\n","fontSize":9,"lineHeight":12,"baseline":"middle","color":"#333333"},"encoding":{"y":{"field":"rm","type":"quantitative"},"x":{"field":"col","type":"nominal","scale":{"type":"point","padding":0.5,"align":0.17},"axis":null},"text":{"field":"val"}}},
{"transform":[{"filter":"datum.r>1 && datum.col!='species'"}],"mark":{"type":"text","fontSize":9,"baseline":"middle","color":"#333333"},"encoding":{"y":{"field":"rm","type":"quantitative"},"x":{"field":"col","type":"nominal","sort":["acc","naa","ident"],"scale":{"type":"band","paddingInner":0,"paddingOuter":0.9,"align":0.984},"axis":null},"text":{"field":"val"}}}
]}
]}
]
}
